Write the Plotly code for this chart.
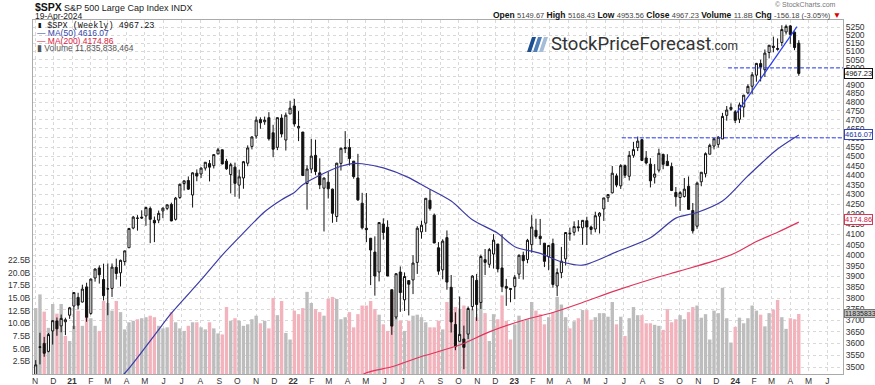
import math
import pandas as pd
import plotly.graph_objects as go

# ---------------- DATA (weekly, week starting Mondays) ----------------
first_week = "2020-11-02"

open_2020 = [3296, 3583, 3600, 3566, 3654, 3698, 3676, 3694, 3723]
high_2020 = [3529, 3646, 3628, 3645, 3699, 3713, 3726, 3712, 3760]
low_2020 = [3279, 3511, 3543, 3562, 3595, 3633, 3648, 3636, 3707]
close_2020 = [3509, 3585, 3558, 3638, 3699, 3663, 3709, 3703, 3756]
vol_2020 = [13.0, 15.7, 12.3, 9.1, 13.8, 11.9, 13.8, 7.5, 6.5]

open_2021 = [3764, 3803, 3782, 3851, 3731, 3892, 3939, 3885, 3842, 3844, 3942, 3916, 3969,
             4035, 4131, 4179, 4185, 4191, 4228, 4169, 4170, 4216, 4229, 4249, 4174, 4284,
             4356, 4372, 4297, 4410, 4406, 4437, 4461, 4450, 4513, 4535, 4474, 4403, 4442,
             4348, 4385, 4463, 4553, 4610, 4701, 4689, 4712, 4628, 4548, 4710, 4588, 4733]
high_2021 = [3827, 3824, 3861, 3870, 3889, 3937, 3951, 3959, 3960, 3960, 3983, 3978, 4021,
             4129, 4191, 4195, 4219, 4238, 4238, 4188, 4218, 4234, 4249, 4258, 4287, 4356,
             4372, 4393, 4415, 4430, 4441, 4469, 4480, 4510, 4546, 4536, 4486, 4465, 4466,
             4429, 4475, 4559, 4608, 4718, 4714, 4718, 4743, 4672, 4713, 4731, 4741, 4808]
low_2021 = [3662, 3749, 3780, 3694, 3725, 3875, 3866, 3789, 3723, 3805, 3885, 3853, 3951,
            4034, 4125, 4118, 4176, 4142, 4057, 4062, 4155, 4180, 4220, 4165, 4168, 4277,
            4320, 4323, 4233, 4368, 4385, 4424, 4367, 4435, 4510, 4457, 4428, 4305, 4288,
            4278, 4329, 4447, 4537, 4595, 4650, 4672, 4585, 4495, 4533, 4603, 4531, 4733]
close_2021 = [3825, 3768, 3841, 3714, 3887, 3934, 3907, 3811, 3842, 3943, 3913, 3975, 4020,
              4129, 4185, 4180, 4181, 4233, 4174, 4156, 4204, 4230, 4247, 4166, 4281, 4352,
              4370, 4327, 4412, 4395, 4437, 4468, 4442, 4509, 4535, 4459, 4433, 4455, 4357,
              4391, 4471, 4545, 4605, 4698, 4683, 4698, 4595, 4538, 4712, 4621, 4726, 4766]
vol_2021 = [9.5, 12.5, 9.5, 13.5, 11.0, 9.5, 8.5, 14.4, 14.0, 12.5, 14.4, 12.2, 8.8,
            10.2, 10.5, 10.8, 11.0, 11.2, 11.5, 11.2, 9.5, 9.0, 9.2, 12.2, 10.2, 9.0,
            8.5, 9.5, 10.2, 10.2, 9.2, 8.8, 10.2, 9.0, 8.0, 7.8, 13.2, 10.5, 11.0,
            10.5, 9.5, 9.8, 10.8, 11.5, 10.0, 10.5, 9.0, 15.0, 11.6, 14.4, 8.1, 6.8]

open_2022 = [4778, 4655, 4632, 4356, 4432, 4505, 4412, 4332, 4363, 4327, 4188, 4462, 4541,
             4547, 4474, 4385, 4255, 4130, 4081, 4014, 3920, 4151, 4135, 3838, 3715, 3920,
             3792, 3880, 3883, 3965, 4112, 4155, 4270, 4195, 4035, 3930, 4084, 3849, 3682,
             3609, 3619, 3640, 3762, 3881, 3780, 3978, 3956, 4005, 4053, 3939, 3853, 3843]
high_2022 = [4819, 4749, 4632, 4453, 4595, 4590, 4489, 4386, 4416, 4330, 4465, 4546, 4637,
             4594, 4474, 4513, 4308, 4307, 4082, 4090, 4158, 4179, 4169, 3838, 3913, 3946,
             3918, 3880, 3999, 4140, 4167, 4280, 4325, 4203, 4062, 4076, 4119, 3906, 3736,
             3807, 3677, 3762, 3905, 3911, 4002, 4029, 4034, 4101, 4053, 4101, 3888, 3846]
low_2022 = [4662, 4582, 4395, 4223, 4410, 4401, 4327, 4114, 4279, 4157, 4161, 4424, 4517,
            4450, 4381, 4267, 4124, 4062, 3859, 3811, 3876, 4074, 3901, 3637, 3705, 3738,
            3742, 3722, 3818, 3911, 4079, 4112, 4218, 4057, 3907, 3886, 3838, 3647, 3571,
            3609, 3491, 3619, 3745, 3698, 3751, 3906, 3940, 3936, 3918, 3827, 3765, 3781]
close_2022 = [4677, 4663, 4398, 4432, 4501, 4419, 4349, 4385, 4329, 4204, 4463, 4543, 4546,
              4488, 4392, 4272, 4132, 4123, 4024, 3901, 4158, 4109, 3901, 3675, 3912, 3825,
              3899, 3863, 3962, 4130, 4145, 4280, 4228, 4058, 3924, 4067, 3873, 3693, 3586,
              3639, 3583, 3753, 3901, 3771, 3993, 3965, 4026, 4072, 3934, 3852, 3845, 3840]
vol_2022 = [12.5, 11.8, 13.0, 16.2, 14.0, 12.8, 12.2, 11.5, 14.8, 15.2, 14.8, 10.8, 11.2,
            12.2, 9.2, 11.8, 13.5, 13.5, 14.4, 12.8, 11.7, 9.8, 8.5, 16.2, 11.2, 10.5,
            8.5, 10.5, 11.5, 11.7, 11.2, 10.2, 9.2, 9.2, 10.5, 8.8, 14.2, 12.2, 13.2,
            12.8, 13.5, 12.5, 12.8, 11.2, 14.5, 12.0, 6.5, 11.8, 10.8, 15.5, 10.5, 6.8]

open_2023 = [3853, 3910, 3999, 3979, 4050, 4120, 4091, 4057, 3992, 4055, 3855, 3917, 3982,
             4102, 4110, 4137, 4132, 4167, 4136, 4126, 4190, 4226, 4283, 4308, 4396, 4344,
             4450, 4394, 4505, 4547, 4590, 4491, 4458, 4389, 4426, 4510, 4473, 4445, 4310,
             4284, 4289, 4342, 4218, 4140, 4365, 4407, 4511, 4555, 4564, 4594, 4725, 4759]
high_2023 = [3906, 4003, 4016, 4078, 4195, 4177, 4176, 4057, 4048, 4079, 3937, 4039, 4110,
             4133, 4164, 4170, 4170, 4187, 4143, 4212, 4210, 4282, 4299, 4448, 4408, 4458,
             4456, 4528, 4578, 4607, 4595, 4528, 4490, 4458, 4541, 4514, 4511, 4466, 4338,
             4317, 4385, 4393, 4256, 4366, 4415, 4521, 4568, 4596, 4609, 4739, 4778, 4793]
low_2023 = [3795, 3888, 3885, 3961, 4011, 4079, 4048, 3943, 3928, 3847, 3809, 3891, 3950,
            4069, 4094, 4114, 4049, 4048, 4099, 4110, 4104, 4166, 4261, 4305, 4337, 4328,
            4385, 4372, 4492, 4528, 4474, 4456, 4336, 4356, 4414, 4431, 4449, 4317, 4238,
            4216, 4284, 4223, 4104, 4127, 4342, 4388, 4511, 4537, 4547, 4593, 4695, 4751]
close_2023 = [3895, 3999, 3973, 4071, 4136, 4090, 4079, 3970, 4046, 3862, 3917, 3971, 4109,
              4105, 4138, 4133, 4169, 4136, 4124, 4192, 4205, 4282, 4299, 4410, 4348, 4450,
              4399, 4505, 4536, 4582, 4478, 4464, 4370, 4406, 4516, 4457, 4450, 4320, 4288,
              4309, 4327, 4224, 4117, 4358, 4415, 4514, 4559, 4595, 4604, 4719, 4755, 4770]
vol_2023 = [9.8, 11.5, 10.5, 10.8, 14.2, 12.5, 11.8, 9.8, 11.2, 12.2, 15.2, 13.7, 11.2,
            9.0, 10.4, 11.0, 12.6, 12.6, 10.7, 11.2, 12.0, 12.0, 11.3, 14.2, 9.8, 11.3,
            7.5, 11.0, 13.2, 11.6, 11.6, 10.0, 10.0, 9.7, 9.5, 8.7, 12.8, 10.2, 10.8,
            11.6, 10.8, 12.2, 13.2, 13.5, 11.1, 11.8, 6.8, 12.5, 12.0, 17.0, 11.0, 6.2]

open_2024 = [4745, 4703, 4772, 4853, 4892, 4957, 5026, 4989, 5093, 5131, 5111, 5154, 5219,
             5257, 5218, 5149.67]
high_2024 = [4755, 4798, 4842, 4903, 4975, 5030, 5049, 5111, 5138, 5190, 5179, 5261, 5265,
             5263, 5222, 5168.43]
low_2024 = [4682, 4682, 4714, 4845, 4845, 4918, 4920, 4946, 5057, 5094, 5104, 5131, 5203,
            5146, 5107, 4953.56]
close_2024 = [4697, 4784, 4840, 4891, 4959, 5027, 5006, 5089, 5137, 5124, 5117, 5234, 5254,
              5204, 5123, 4967.23]
vol_2024 = [9.3, 11.1, 10.0, 11.0, 13.5, 12.5, 11.7, 9.4, 12.0, 12.7, 14.6, 11.2, 8.9,
            11.0, 10.8, 11.84]
prev_close_before_start = 3270

# moving averages
ma50_dates = ['2021-02-15', '2021-03-29', '2021-05-17', '2021-06-14', '2021-08-02', '2021-09-06',
              '2021-10-11', '2021-11-15', '2021-12-13', '2022-01-03', '2022-01-17', '2022-02-21',
              '2022-03-21', '2022-04-11', '2022-04-25', '2022-05-30', '2022-07-11', '2022-08-08',
              '2022-09-19', '2022-10-24', '2022-12-05', '2023-01-02', '2023-02-13', '2023-03-20',
              '2023-04-24', '2023-06-19', '2023-08-14', '2023-09-25', '2023-10-30', '2023-12-11',
              '2024-01-22', '2024-03-11', '2024-04-15']
ma50_values = [3380, 3474, 3635, 3732, 3883, 4000, 4107, 4212, 4273, 4310, 4350, 4410,
               4447, 4462, 4460, 4438, 4387, 4338, 4266, 4172, 4105, 4040, 4008, 3968,
               3952, 4015, 4083, 4180, 4208, 4266, 4396, 4539, 4616.07]
ma200_dates = ['2022-03-28', '2022-05-02', '2022-06-13', '2022-08-01', '2022-10-03', '2022-11-21',
               '2023-01-16', '2023-03-06', '2023-04-24', '2023-06-19', '2023-08-14', '2023-10-02',
               '2023-11-27', '2024-01-01', '2024-02-05', '2024-03-11', '2024-04-15']
ma200_values = [3420, 3476, 3501, 3544, 3593, 3650, 3701, 3735, 3780, 3835, 3885, 3925,
                3972, 4010, 4065, 4110, 4160]

# drawn trend / resistance lines
trend_dates = ['2024-01-04', '2024-04-12']
trend_values = [4740, 5252]
res_levels = [5000, 4600]
res_starts = ['2023-12-20', '2023-06-28']
res_end = '2024-08-01'

price_ticks = [3500, 3550, 3600, 3650, 3700, 3750, 3800, 3850, 3900, 3950, 4000, 4050,
               4100, 4150, 4200, 4250, 4300, 4350, 4400, 4450, 4500, 4550, 4600, 4650,
               4700, 4750, 4800, 4850, 4900, 4950, 5000, 5050, 5100, 5150, 5200, 5250]
vol_ticks = [2.5, 5.0, 7.5, 10.0, 12.5, 15.0, 17.5, 20.0, 22.5]
vol_tick_labels = ['2.5B', '5.0B', '7.5B', '10.0B', '12.5B', '15.0B', '17.5B', '20.0B', '22.5B']
month_labels = ['N', 'D',
                '<b>21</b>', 'F', 'M', 'A', 'M', 'J', 'J', 'A', 'S', 'O', 'N', 'D',
                '<b>22</b>', 'F', 'M', 'A', 'M', 'J', 'J', 'A', 'S', 'O', 'N', 'D',
                '<b>23</b>', 'F', 'M', 'A', 'M', 'J', 'J', 'A', 'S', 'O', 'N', 'D',
                '<b>24</b>', 'F', 'M', 'A', 'M', 'J']

# ---------------- assemble ----------------
opens = open_2020 + open_2021 + open_2022 + open_2023 + open_2024
highs = high_2020 + high_2021 + high_2022 + high_2023 + high_2024
lows = low_2020 + low_2021 + low_2022 + low_2023 + low_2024
closes = close_2020 + close_2021 + close_2022 + close_2023 + close_2024
volumes = vol_2020 + vol_2021 + vol_2022 + vol_2023 + vol_2024
weeks = pd.date_range(first_week, periods=len(closes), freq='W-MON')
month_ticks = pd.date_range('2020-11-01', periods=len(month_labels), freq='MS')

prev = [prev_close_before_start] + closes[:-1]
vol_colors = ['#f2b3bd' if c < p else '#bdbdbd' for c, p in zip(closes, prev)]

FONT = "Liberation Sans, Arial, sans-serif"
L, R, T, B = 33, 843, 20, 374


def px(x):
    return (x - L) / (R - L)


def py(y):
    return (B - y) / (B - T)


fig = go.Figure()
fig.add_trace(go.Bar(x=weeks, y=volumes, marker=dict(color=vol_colors, line=dict(width=0)),
                     width=7 * 86400000 * 0.8, yaxis='y', hoverinfo='skip'))
fig.add_trace(go.Scatter(x=ma50_dates, y=ma50_values, mode='lines', yaxis='y2',
                         line=dict(color='#3b3ba6', width=1.2, shape='spline', smoothing=0.8)))
fig.add_trace(go.Scatter(x=ma200_dates, y=ma200_values, mode='lines', yaxis='y2',
                         line=dict(color='#e0345a', width=1.2, shape='spline', smoothing=0.8)))
for lvl, st in zip(res_levels, res_starts):
    fig.add_trace(go.Scatter(x=[st, res_end], y=[lvl, lvl], mode='lines', yaxis='y2',
                             line=dict(color='#2a3cf0', width=1, dash='4px,2px')))
fig.add_trace(go.Scatter(x=trend_dates, y=trend_values, mode='lines', yaxis='y2',
                         line=dict(color='#2a3cf0', width=1.2)))
fig.add_trace(go.Candlestick(x=weeks, open=opens, high=highs, low=lows, close=closes, yaxis='y2',
                             increasing=dict(line=dict(color='#111', width=1), fillcolor='white'),
                             decreasing=dict(line=dict(color='#111', width=1), fillcolor='#111'),
                             whiskerwidth=0))

fig.update_layout(
    width=875, height=385, margin=dict(l=L, r=875 - R, t=T, b=385 - B, autoexpand=False),
    paper_bgcolor='white', plot_bgcolor='white', showlegend=False,
    font=dict(family=FONT, size=9, color='#333'),
    xaxis=dict(type='date', range=['2020-10-28 12:00', '2024-06-27'], tickvals=month_ticks,
               ticktext=month_labels, showgrid=True, gridcolor='#d9d9d9', griddash='dot',
               ticks='', showline=True, linecolor='#aaaaaa', mirror=True, automargin=False,
               rangeslider=dict(visible=False), tickfont=dict(size=8.5, color='#333'),
               ticklabelstandoff=-1),
    yaxis=dict(range=[0, 69.8], tickvals=vol_ticks, ticktext=vol_tick_labels, side='left',
               showgrid=False, zeroline=False, ticks='', showline=True, linecolor='#aaaaaa',
               tickfont=dict(size=8.5, color='#333'), ticklabelstandoff=0, automargin=False),
    yaxis2=dict(type='log', overlaying='y', side='right',
                range=[math.log10(3471), math.log10(5294)], tickvals=price_ticks,
                ticktext=[str(t) for t in price_ticks], showgrid=True, gridcolor='#d9d9d9',
                griddash='dot', ticks='', showline=True, linecolor='#aaaaaa', automargin=False,
                tickfont=dict(size=8.5, color='#333'), ticklabelstandoff=0),
)

ann = []
ann.append(dict(x=px(33), y=py(7), text='<b>$SPX</b>', font=dict(size=10.5, color='#111')))
ann.append(dict(x=px(62), y=py(7.5), text='S&amp;P 500 Large Cap Index INDX', font=dict(size=9, color='#222')))
ann.append(dict(x=px(33), y=py(15.5), text='19-Apr-2024', font=dict(size=8.5, color='#222')))
ann.append(dict(x=px(838), y=py(5), xanchor='right', text='© StockCharts.com',
                font=dict(size=7, color='#777')))
ann.append(dict(x=px(843), y=py(15), xanchor='right',
                text=("<b>Open</b> <span style='font-size:7.5px;color:#444'>5149.67</span> "
                      "<b>High</b> <span style='font-size:7.5px;color:#444'>5168.43</span> "
                      "<b>Low</b> <span style='font-size:7.5px;color:#444'>4953.56</span> "
                      "<b>Close</b> <span style='font-size:7.5px;color:#444'>4967.23</span> "
                      "<b>Volume</b> <span style='font-size:7.5px;color:#444'>11.8B</span> "
                      "<b>Chg</b> <span style='font-size:7.5px;color:#444'>-156.18 (-3.05%)</span> "
                      "<span style='color:#d00'>▼</span>"),
                font=dict(size=8.5, color='#111')))
# in-plot legend
ann.append(dict(x=px(35), y=py(25.5), text='▮ $SPX (Weekly) 4967.23',
                font=dict(family='Liberation Mono, monospace', size=8.5, color='#111')))
ann.append(dict(x=px(35), y=py(33), text='— MA(50) 4616.07', font=dict(size=8.5, color='#3344aa')))
ann.append(dict(x=px(35), y=py(40.5), text='— MA(200) 4174.86', font=dict(size=8.5, color='#dd2244')))
ann.append(dict(x=px(35), y=py(48), text='▮ Volume 11,835,838,464', font=dict(size=8.5, color='#555')))
# logo
ann.append(dict(x=px(549), y=py(44), yanchor='middle',
                text="StockPriceForecast<span style='font-size:12px'>.com</span>",
                font=dict(family='Roboto, sans-serif', size=18.5, color='#333')))
for a in ann:
    a.setdefault('xref', 'paper')
    a.setdefault('yref', 'paper')
    a.setdefault('xanchor', 'left')
    a.setdefault('yanchor', 'middle')
    a['showarrow'] = False

# right-side value tags
tags = [(closes[-1], 'y2', f'{closes[-1]:.2f}', '#111', 'white', '#111', 7.5),
        (ma50_values[-1], 'y2', f'{ma50_values[-1]:.2f}', '#3344bb', 'white', '#223399', 7.5),
        (4174.86, 'y2', '4174.86', '#dd3355', 'white', '#cc2244', 7.5),
        (volumes[-1], 'y', '11835833', '#777', '#c4c4c4', '#222', 7)]
for val, yr, txt, bc, bg, fc, fs in tags:
    yv = math.log10(val) if yr == 'y2' else val
    ann.append(dict(x=1.0, xref='paper', y=yv, yref=yr, xanchor='left', yanchor='middle',
                    xshift=1, text=txt, showarrow=False, bordercolor=bc, borderwidth=1,
                    borderpad=0, bgcolor=bg, font=dict(size=fs, color=fc)))
fig.update_layout(annotations=ann)

# logo slashes
shapes = []
for x0, col in zip([527, 533, 539], ['#1e4f8f', '#4f7fb8', '#a6bdd8']):
    path = (f"M {px(x0)},{py(52)} L {px(x0 + 4)},{py(52)} L {px(x0 + 9)},{py(37)} "
            f"L {px(x0 + 5)},{py(37)} Z")
    shapes.append(dict(type='path', xref='paper', yref='paper', path=path,
                       fillcolor=col, line=dict(width=0)))
fig.update_layout(shapes=shapes)

fig.write_html("out.html", config={'displayModeBar': False},
               post_script="document.body.style.margin='0px';document.body.style.overflow='hidden';")
